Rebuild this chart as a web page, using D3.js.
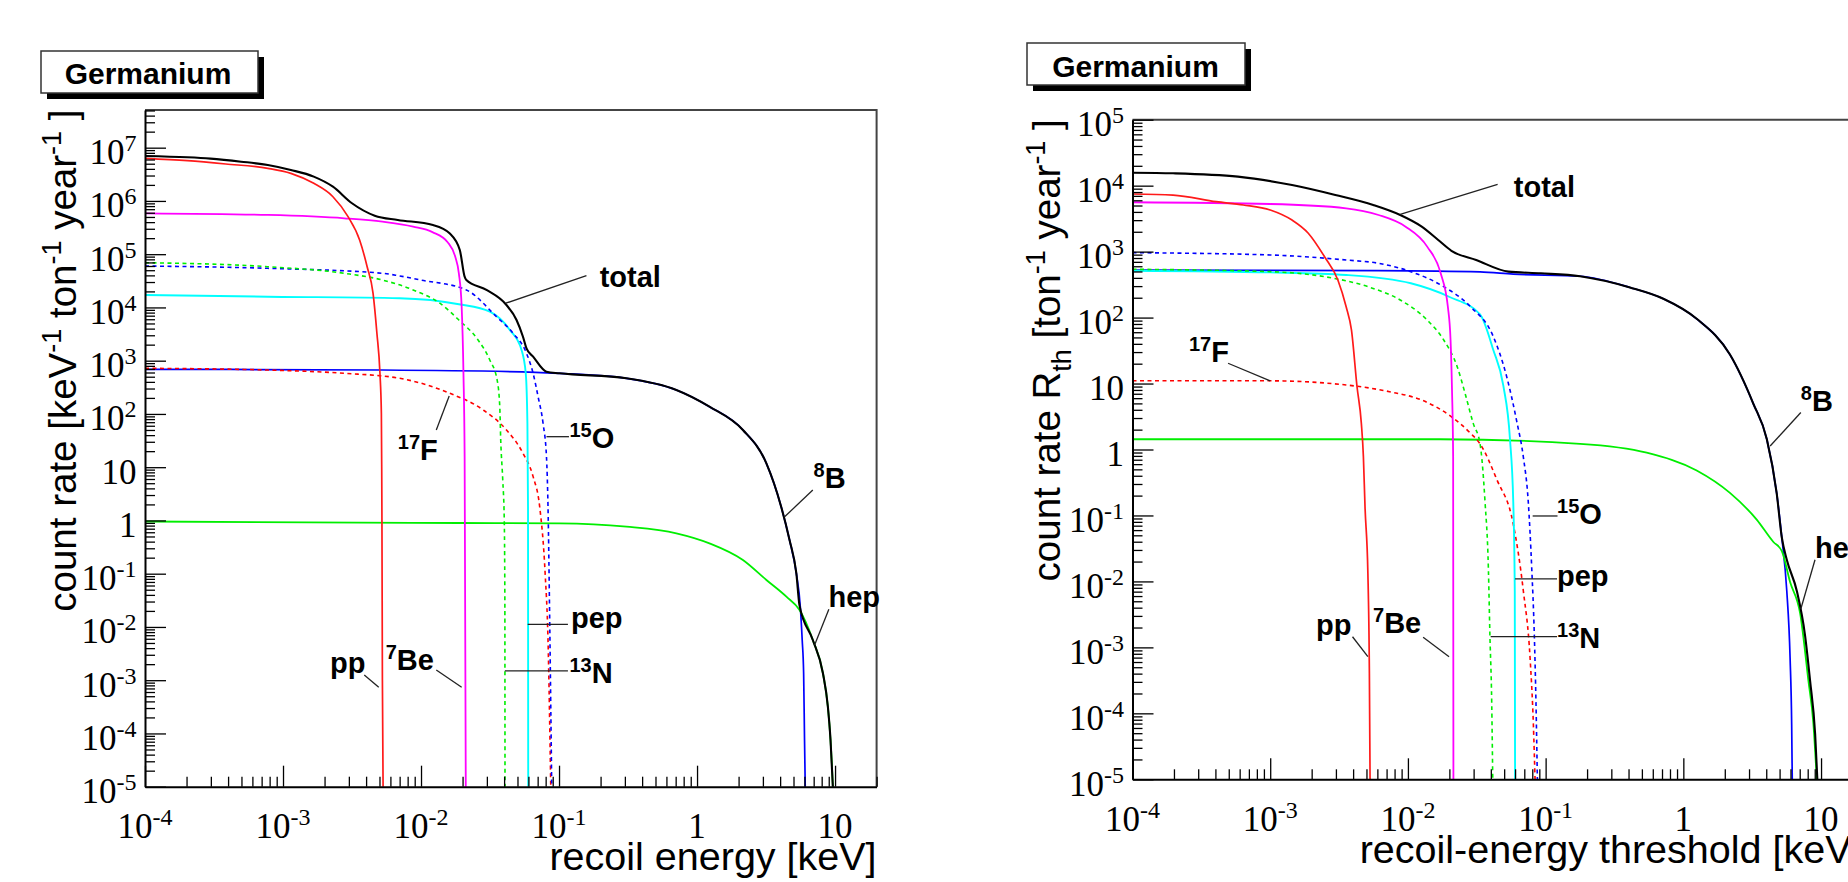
<!DOCTYPE html>
<html><head><meta charset="utf-8">
<script src="https://cdn.jsdelivr.net/npm/d3@7"></script>
<style>body{margin:0;background:#fff}svg{display:block}</style>
</head><body><svg id="c" width="1848" height="882"></svg>
<script>
// ---------------- DATA ----------------
// Series names (drawing order)
const seriesNames = ["8B","hep","17F","pep","15O","13N","7Be","pp","total"];

// Left panel: differential rate [keV^-1 ton^-1 year^-1] vs recoil energy [keV]
const diffPP = [[1e-4,6.32e6],[2.03e-4,5.70e6],[3.85e-4,4.94e6],[7.76e-4,4.10e6],[1.14e-3,3.30e6],[1.67e-3,2.14e6],[2.30e-3,1.20e6],[2.96e-3,5.06e5],[3.59e-3,1.85e5],[4.07e-3,5.82e4],[4.49e-3,1.85e4],[4.79e-3,3.27e3],[5.04e-3,579],[5.16e-3,103],[5.19e-3,10.2],[5.21e-3,1.02],[5.25e-3,1e-3],[5.31e-3,1e-5]];
const diffBe7 = [[1e-4,5.86e5],[7.76e-4,5.45e5],[2.78e-3,4.72e5],[5.26e-3,4.07e5],[8.77e-3,3.28e5],[1.21e-2,2.60e5],[1.56e-2,1.68e5],[1.77e-2,8.97e4],[1.88e-2,4.38e4],[1.97e-2,1.03e4],[2.03e-2,579],[2.07e-2,15.7],[2.11e-2,1e-5]];
const diffN13 = [[1e-4,6.92e4],[7.76e-4,5.82e4],[2.78e-3,4.38e4],[5.26e-3,3.27e4],[8.77e-3,2.13e4],[1.37e-2,1.20e4],[1.88e-2,5.81e3],[2.59e-2,2.45e3],[3.15e-2,1.03e3],[3.56e-2,435],[3.72e-2,137],[3.78e-2,32.4],[3.91e-2,5.75],[4.01e-2,1.02],[4.05e-2,3.21e-2],[4.06e-2,1e-5]];
const diffO15 = [[1e-4,6.00e4],[7.76e-4,5.43e4],[5.26e-3,4.38e4],[7.01e-3,3.90e4],[9.98e-3,3.27e4],[2.13e-2,2.13e4],[3.52e-2,6.70e3],[4.65e-2,3.27e3],[5.81e-2,1.38e3],[6.49e-2,579],[7.05e-2,211],[7.66e-2,66.7],[8.11e-2,15.7],[8.32e-2,1.81],[8.57e-2,1.01e-2],[8.85e-2,1e-5]];
const diffPep = [[1e-4,1.71e4],[7.76e-4,1.59e4],[7.01e-3,1.49e4],[1.88e-2,1.15e4],[3.15e-2,8.32e3],[4.40e-2,3.78e3],[5.35e-2,1.59e3],[5.74e-2,579],[5.90e-2,66.7],[5.96e-2,1.81],[5.98e-2,1e-5]];
const diffF17 = [[1e-4,719],[7.76e-4,668],[2.78e-3,579],[7.01e-3,467],[1.62e-2,244],[2.82e-2,119],[4.16e-2,50.0],[5.48e-2,18.2],[6.49e-2,6.64],[7.24e-2,1.81],[7.93e-2,0.102],[8.32e-2,5.69e-3],[8.71e-2,1e-5]];
const diffB8 = [[1e-4,689],[5.26e-3,668],[6.76e-2,605],[0.101,579],[0.308,467],[0.708,282],[1.23,137],[2.15,50.0],[3.18,11.8],[4.07,1.81],[4.68,0.430],[5.24,0.102],[5.60,2.40e-2],[5.78,5.69e-3],[5.92,1.35e-3],[6.01,7.57e-5],[6.08,1e-5]];
const diffHep = [[1e-4,0.955],[1.88e-2,0.895],[0.101,0.883],[0.308,0.764],[0.708,0.574],[1.23,0.372],[2.15,0.181],[3.18,7.62e-2],[4.44,3.70e-2],[5.53,2.08e-2],[6.90,5.69e-3],[8.17,1.35e-3],[8.87,3.18e-4],[9.27,7.59e-5],[9.55,1.79e-5],[9.64,1e-5]];
const diffTotal = [[1e-4,6.98e6],[2.03e-4,6.59e6],[2.98e-4,6.22e6],[4.97e-4,5.46e6],[7.76e-4,4.73e6],[1.14e-3,3.81e6],[1.67e-3,2.86e6],[2.30e-3,1.85e6],[3.16e-3,9.04e5],[4.62e-3,5.28e5],[6.79e-3,4.39e5],[1.22e-2,3.53e5],[1.61e-2,2.47e5],[1.91e-2,1.20e5],[2.07e-2,3.78e4],[2.13e-2,3.27e4],[2.98e-2,2.13e4],[4.16e-2,1.11e4],[4.92e-2,5.81e3],[5.48e-2,2.82e3],[5.81e-2,1.71e3],[6.49e-2,1.19e3],[8.11e-2,622],[0.101,579],[0.308,467],[0.708,282],[1.23,137],[2.15,50.0],[3.18,11.8],[4.07,1.81],[4.68,0.430],[5.24,0.102],[5.53,2.51e-2],[6.90,5.69e-3],[8.17,1.35e-3],[8.87,3.18e-4],[9.27,7.59e-5],[9.64,1e-5]];

// Right panel: integrated rate above threshold [ton^-1 year^-1] vs threshold [keV]
const intPP = [[1e-4,7.48e3],[1.97e-4,7.21e3],[4.06e-4,5.71e3],[6.38e-4,5.09e3],[1.00e-3,4.28e3],[1.44e-3,3.01e3],[1.89e-3,1.90e3],[2.48e-3,838],[3.10e-3,372],[3.56e-3,146],[3.89e-3,64.9],[4.27e-3,8.95],[4.59e-3,2.49],[4.75e-3,0.778],[4.88e-3,0.136],[5.12e-3,1.33e-2],[5.25e-3,4.05e-4],[5.31e-3,1e-5]];
const intBe7 = [[1e-4,5.60e3],[1.00e-3,5.27e3],[3.56e-3,4.54e3],[6.12e-3,3.59e3],[9.62e-3,2.39e3],[1.38e-2,1.19e3],[1.73e-2,469],[1.95e-2,146],[2.04e-2,45.7],[2.09e-2,7.98],[2.13e-2,0.778],[2.14e-2,1e-5]];
const intO15 = [[1e-4,964],[1.00e-3,889],[3.56e-3,746],[6.12e-3,665],[1.05e-2,497],[1.82e-2,294],[2.85e-2,146],[4.17e-2,51.5],[5.22e-2,12.6],[6.17e-2,2.67],[6.89e-2,0.769],[7.48e-2,0.161],[7.93e-2,1.56e-2],[8.28e-2,1.50e-3],[8.51e-2,1.45e-4],[8.71e-2,1e-5]];
const intN13 = [[1e-4,540],[1.00e-3,497],[2.48e-3,417],[5.12e-3,294],[8.79e-3,185],[1.38e-2,91.8],[1.82e-2,45.7],[2.28e-2,18.0],[2.60e-2,7.11],[2.98e-2,2.49],[3.34e-2,1.22],[3.63e-2,0.161],[3.84e-2,1.56e-2],[3.94e-2,1.50e-3],[4.06e-2,1.45e-4],[4.13e-2,1e-5]];
const intPep = [[1e-4,514],[1.00e-3,485],[3.56e-3,443],[1.05e-2,331],[1.99e-2,207],[3.34e-2,112],[4.17e-2,32.2],[4.93e-2,9.27],[5.51e-2,1.43],[5.82e-2,0.161],[5.97e-2,7.16e-3],[6.00e-2,1e-5]];
const intF17 = [[1e-4,11.0],[1.00e-3,11.0],[3.56e-3,9.51],[7.35e-3,7.52],[1.26e-2,5.62],[1.99e-2,3.33],[2.85e-2,1.76],[3.34e-2,1.22],[4.42e-2,0.351],[5.82e-2,7.41e-2],[6.89e-2,7.16e-3],[7.71e-2,6.90e-4],[8.15e-2,6.65e-5],[8.38e-2,1e-5]];
const intB8 = [[1e-4,526],[6.12e-3,514],[3.34e-2,493],[5.82e-2,456],[0.178,423],[0.410,286],[0.716,193],[1.25,95.9],[2.18,27.5],[3.22,4.97],[4.04,1.43],[4.76,0.220],[5.19,4.63e-2],[5.64,7.16e-3],[5.96,6.90e-4],[6.12,6.65e-5],[6.18,1e-5]];
const intHep = [[1e-4,1.43],[1.71e-2,1.43],[0.178,1.22],[0.542,0.895],[1.25,0.481],[2.18,0.220],[3.41,8.65e-2],[4.51,3.96e-2],[5.19,2.89e-2],[5.96,9.79e-3],[7.05,3.27e-3],[8.09,3.16e-4],[8.79,7.16e-5],[9.31,1e-5]];
const intTotal = [[1e-4,1.57e4],[1.97e-4,1.54e4],[5.83e-4,1.37e4],[1.44e-3,1.02e4],[2.97e-3,7.21e3],[5.60e-3,5.09e3],[8.79e-3,3.59e3],[1.26e-2,2.39e3],[1.66e-2,1.50e3],[2.07e-2,1.03e3],[3.13e-2,746],[5.37e-2,497],[9.23e-2,469],[0.178,423],[0.410,286],[0.716,193],[1.25,95.9],[2.18,27.5],[3.22,4.97],[4.04,1.43],[4.76,0.220],[5.19,4.63e-2],[5.64,2.13e-2],[6.67,7.16e-3],[7.66,1.50e-3],[8.32,3.16e-4],[9.06,4.86e-5],[9.40,1e-5]];

// Tick labels
const xMajorTicks = [1e-4,1e-3,1e-2,1e-1,1,10];
const xTickLabels = [["10","-4"],["10","-3"],["10","-2"],["10","-1"],["1",""],["10",""]];
const yLeftExps = [-5,-4,-3,-2,-1,0,1,2,3,4,5,6,7];
const yRightExps = [-5,-4,-3,-2,-1,0,1,2,3,4,5];

// Curve labels: text anchor and leader line, in data coordinates
const leftNotes = [
  {parts:[["total"]], at:[0.197,2.42e4], line:[[0.158,3.94e4],[0.0411,1.20e4]]},
  {parts:[["15","^"],["O"]], at:[0.119,23.0], line:[[0.0811,37.4],[0.118,37.4]]},
  {parts:[["17","^"],["F"]], at:[6.79e-3,13.6], line:[[1.29e-2,50.0],[1.60e-2,217]]},
  {parts:[["8","^"],["B"]], at:[6.98,4.12], line:[[4.31,1.17],[6.90,3.73]]},
  {parts:[["hep"]], at:[8.97,2.40e-2], line:[[7.11,4.58e-3],[9.02,2.14e-2]]},
  {parts:[["pep"]], at:[0.122,9.55e-3], line:[[5.93e-2,1.12e-2],[0.116,1.12e-2]]},
  {parts:[["13","^"],["N"]], at:[0.119,8.85e-4], line:[[4.05e-2,1.49e-3],[0.116,1.49e-3]]},
  {parts:[["pp"]], at:[2.19e-3,1.36e-3], line:[[3.88e-3,1.25e-3],[4.94e-3,7.36e-4]]},
  {parts:[["7","^"],["Be"]], at:[5.55e-3,1.56e-3], line:[[1.29e-2,1.56e-3],[1.97e-2,7.36e-4]]}
];
const rightNotes = [
  {parts:[["total"]], at:[5.87e-2,6.81e3], line:[[4.48e-2,1.05e4],[8.79e-3,3.68e3]]},
  {parts:[["17","^"],["F"]], at:[2.57e-4,21.4], line:[[4.94e-4,20.3],[1.00e-3,11.0]]},
  {parts:[["8","^"],["B"]], at:[7.13,3.84], line:[[4.27,1.13],[7.13,3.64]]},
  {parts:[["hep"]], at:[9.04,2.30e-2], line:[[7.13,3.82e-3],[9.04,2.13e-2]]},
  {parts:[["15","^"],["O"]], at:[0.121,7.41e-2], line:[[8.05e-2,9.82e-2],[0.122,9.82e-2]]},
  {parts:[["pep"]], at:[0.121,8.51e-3], line:[[6.00e-2,1.09e-2],[0.121,1.09e-2]]},
  {parts:[["13","^"],["N"]], at:[0.121,9.77e-4], line:[[3.99e-2,1.46e-3],[0.121,1.46e-3]]},
  {parts:[["pp"]], at:[2.15e-3,1.54e-3], line:[[3.96e-3,1.45e-3],[5.12e-3,7.23e-4]]},
  {parts:[["7","^"],["Be"]], at:[5.58e-3,1.65e-3], line:[[1.29e-2,1.42e-3],[1.99e-2,7.23e-4]]}
];

// ---------------- STYLE ----------------
const styleOf = {
  "pp":   {color:"#ff1a1a", dash:null, w:1.7},
  "7Be":  {color:"#ff00ff", dash:null, w:1.8},
  "13N":  {color:"#00ee00", dash:"4,3.5", w:1.6},
  "15O":  {color:"#0000ff", dash:"4,3.5", w:1.6},
  "pep":  {color:"#00ffff", dash:null, w:1.9},
  "17F":  {color:"#ff0000", dash:"4,3.5", w:1.6},
  "8B":   {color:"#0000ff", dash:null, w:1.7},
  "hep":  {color:"#00ee00", dash:null, w:1.8},
  "total":{color:"#000000", dash:null, w:2.1}
};
const SERIF = "'Liberation Serif','Times New Roman',serif";
const SANS = "'Liberation Sans',Arial,Helvetica,sans-serif";

const svg = d3.select("#c");
svg.append("rect").attr("width",1848).attr("height",882).attr("fill","#fff");

function rich(t, parts, size, smallSize, shift) {
  let cur = 0;
  parts.forEach(p => {
    const mode = p[1] || "";
    const ts = t.append("tspan").text(p[0]);
    const target = mode === "^" ? -shift : mode === "_" ? shift * 0.75 : 0;
    if (target !== cur) ts.attr("dy", target - cur);
    cur = target;
    ts.attr("font-size", mode ? smallSize : size);
  });
}

function drawPanel(p, idx) {
  const g = svg.append("g");
  const [x0, x1] = p.x.range();
  const [y0, y1] = p.y.range();
  const clipId = "clip" + idx;
  g.append("clipPath").attr("id", clipId).append("rect")
    .attr("x", x0).attr("y", y1).attr("width", x1 - x0).attr("height", y0 - y1 + 1);

  // frame (top, right)
  g.append("path").attr("d", `M${x0},${y1}H${x1}V${y0}`)
    .attr("fill","none").attr("stroke","#444").attr("stroke-width",2);

  // curves
  const line = d3.line().x(d => p.x(d[0])).y(d => p.y(d[1])).curve(d3.curveMonotoneX);
  const cg = g.append("g").attr("clip-path", `url(#${clipId})`);
  seriesNames.forEach(name => {
    const st = styleOf[name];
    cg.append("path").datum(p.series[name]).attr("d", line)
      .attr("fill","none").attr("stroke", st.color).attr("stroke-width", st.w)
      .attr("stroke-dasharray", st.dash).attr("stroke-linejoin","round");
  });

  // axes
  const xMinor = [], yMinor = [];
  for (let e = -4; e <= 1; e++) for (let m = 2; m <= 9; m++) { const v = m * Math.pow(10, e); if (v <= p.x.domain()[1]) xMinor.push(v); }
  for (let e = -5; e <= 8; e++) for (let m = 2; m <= 9; m++) { const v = m * Math.pow(10, e); if (v <= p.y.domain()[1]) yMinor.push(v); }
  const yMajor = p.yExps.map(e => Math.pow(10, e));

  const styleAxis = (sel, keepDomain) => {
    sel.selectAll("text").remove();
    sel.selectAll(".tick line").attr("stroke","#000").attr("stroke-width",1.3);
    if (keepDomain) sel.select(".domain").attr("stroke","#000").attr("stroke-width",2);
    else sel.select(".domain").remove();
  };
  g.append("g").attr("transform",`translate(0,${y0})`)
    .call(d3.axisBottom(p.x).tickValues(xMinor).tickSizeInner(-10).tickSizeOuter(0).tickFormat(()=>""))
    .call(s => styleAxis(s, false));
  g.append("g").attr("transform",`translate(0,${y0})`)
    .call(d3.axisBottom(p.x).tickValues(xMajorTicks).tickSizeInner(-21).tickSizeOuter(0).tickFormat(()=>""))
    .call(s => styleAxis(s, true));
  g.append("g").attr("transform",`translate(${x0},0)`)
    .call(d3.axisLeft(p.y).tickValues(yMinor).tickSizeInner(-10).tickSizeOuter(0).tickFormat(()=>""))
    .call(s => styleAxis(s, false));
  g.append("g").attr("transform",`translate(${x0},0)`)
    .call(d3.axisLeft(p.y).tickValues(yMajor).tickSizeInner(-21).tickSizeOuter(0).tickFormat(()=>""))
    .call(s => styleAxis(s, true));

  // tick labels
  xMajorTicks.forEach((v, i) => {
    const lab = xTickLabels[i];
    const t = g.append("text").attr("x", p.x(v)).attr("y", y0 + 51.5)
      .attr("text-anchor","middle").attr("font-family", SERIF).attr("fill","#000");
    rich(t, lab[1] ? [[lab[0]],[lab[1],"^"]] : [[lab[0]]], 35, 24, 13);
  });
  p.yExps.forEach(e => {
    const parts = e === 0 ? [["1"]] : e === 1 ? [["10"]] : [["10"],[String(e),"^"]];
    const t = g.append("text").attr("x", x0 - 8.5).attr("y", p.y(Math.pow(10, e)) + 16.5)
      .attr("text-anchor","end").attr("font-family", SERIF).attr("fill","#000");
    rich(t, parts, 35, 24, 13);
  });

  // axis titles
  const xt = g.append("text").attr("x", x1).attr("y", p.xTitleY)
    .attr("text-anchor","end").attr("font-family", SANS).attr("fill","#000");
  rich(xt, p.xTitle, 39.5, 28, 14);
  const yt = g.append("text").attr("transform", `translate(${p.yTitleX},${y1 - 0.5}) rotate(-90)`)
    .attr("text-anchor","end").attr("font-family", SANS).attr("fill","#000");
  rich(yt, p.yTitle, 38.5, 27, 15);

  // curve labels with leader lines
  p.notes.forEach(n => {
    g.append("line")
      .attr("x1", p.x(n.line[0][0])).attr("y1", p.y(n.line[0][1]))
      .attr("x2", p.x(n.line[1][0])).attr("y2", p.y(n.line[1][1]))
      .attr("stroke","#222").attr("stroke-width",1.3);
    const t = g.append("text").attr("x", p.x(n.at[0])).attr("y", p.y(n.at[1]))
      .attr("font-family", SANS).attr("font-weight","bold").attr("fill","#000");
    rich(t, n.parts, 29, 20, 11);
  });

  // "Germanium" box
  const b = p.box;
  g.append("rect").attr("x", b.x + 6).attr("y", b.y + 6).attr("width", b.w).attr("height", b.h).attr("fill","#000");
  g.append("rect").attr("x", b.x).attr("y", b.y).attr("width", b.w).attr("height", b.h)
    .attr("fill","#fff").attr("stroke","#333").attr("stroke-width",1.5);
  g.append("text").attr("x", b.tx).attr("y", b.ty).attr("text-anchor","middle")
    .attr("font-family", SANS).attr("font-weight","bold").attr("font-size", 30).attr("fill","#000")
    .text("Germanium");
}

const panels = [
  {
    x: d3.scaleLog().domain([1e-4, 20]).range([145, 876.6]),
    y: d3.scaleLog().domain([1e-5, 5.1e7]).range([786.7, 110]),
    yExps: yLeftExps,
    series: {"pp":diffPP,"7Be":diffBe7,"13N":diffN13,"15O":diffO15,"pep":diffPep,"17F":diffF17,"8B":diffB8,"hep":diffHep,"total":diffTotal},
    notes: leftNotes,
    xTitle: [["recoil energy [keV]"]], xTitleY: 870,
    yTitle: [["count rate [keV"],["-1","^"],[" ton"],["-1","^"],[" year"],["-1","^"],[" ]"]], yTitleX: 76,
    box: {x:41, y:51, w:217, h:42, tx:148, ty:83.5}
  },
  {
    x: d3.scaleLog().domain([1e-4, 20]).range([1132.5, 1862.5]),
    y: d3.scaleLog().domain([1e-5, 1e5]).range([779.3, 119.7]),
    yExps: yRightExps,
    series: {"pp":intPP,"7Be":intBe7,"13N":intN13,"15O":intO15,"pep":intPep,"17F":intF17,"8B":intB8,"hep":intHep,"total":intTotal},
    notes: rightNotes,
    xTitle: [["recoil-energy threshold [keV]"]], xTitleY: 863,
    yTitle: [["count rate R"],["th","_"],[" [ton"],["-1","^"],[" year"],["-1","^"],[" ]"]], yTitleX: 1060,
    box: {x:1027, y:43, w:218, h:42, tx:1135.5, ty:76.5}
  }
];
panels.forEach(drawPanel);
</script></body></html>
